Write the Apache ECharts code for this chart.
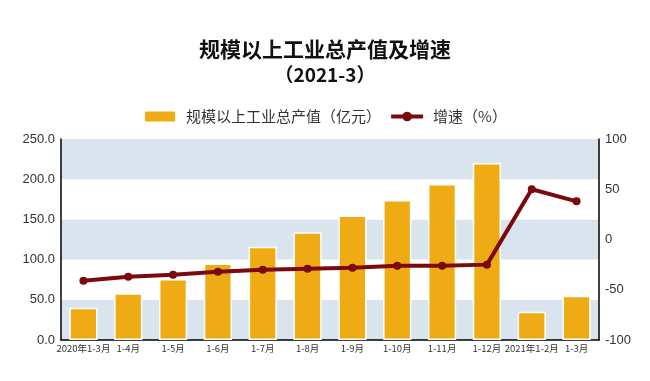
<!DOCTYPE html>
<html><head><meta charset="utf-8">
<script src="https://cdn.jsdelivr.net/npm/echarts@6/dist/echarts.min.js"></script>
<style>html,body{margin:0;padding:0;background:#fff}#c{width:650px;height:381px}</style>
</head><body><div id="c"></div>
<script>
const categories = ['2020年1-3月','1-4月','1-5月','1-6月','1-7月','1-8月','1-9月','1-10月','1-11月','1-12月','2021年1-2月','1-3月'];
const outputValues = [40, 58, 76, 95, 116, 134, 155, 174, 194, 220, 35, 55];
const growthRates = [-41, -37, -35, -32, -30, -29, -28, -26, -26, -25, 50, 38];
const leftTicks = [0, 50, 100, 150, 200, 250];
const rightTicks = [-100, -50, 0, 50, 100];

const chart = echarts.init(document.getElementById('c'), null, {renderer: 'canvas'});
chart.setOption({
  animation: false,
  title: [
    {text: '规模以上工业总产值及增速', left: 'center', top: 34,
     textStyle: {fontSize: 21, fontWeight: 'bold', color: '#111', fontFamily: 'Noto Sans CJK SC'}},
    {text: '（2021-3）', left: 'center', top: 60,
     textStyle: {fontSize: 19, fontWeight: 'bold', color: '#111', fontFamily: 'Noto Sans CJK SC'}}
  ],
  legend: {
    top: 104, left: 'center', itemGap: 8, itemWidth: 32, itemHeight: 12,
    textStyle: {fontSize: 15, color: '#333', fontFamily: 'Noto Sans CJK SC', padding: [0, 0, 0, 5]},
    data: [
      {name: '规模以上工业总产值（亿元）', icon: 'rect'},
      {name: '增速（%）', itemStyle: {color: '#7a0a0e'}, lineStyle: {width: 4, color: '#7a0a0e'}}
    ]
  },
  grid: {left: 61, right: 51, top: 139, bottom: 41},
  xAxis: {
    type: 'category', data: categories,
    axisLine: {lineStyle: {color: '#000', width: 1.5}},
    axisTick: {show: false},
    axisLabel: {fontSize: 9.5, color: '#333', interval: 0, margin: 4, fontFamily: 'Noto Sans CJK SC'}
  },
  yAxis: [
    {type: 'value', min: 0, max: 250, interval: 50,
     axisLine: {show: true, lineStyle: {color: '#000', width: 1.5}},
     axisTick: {show: false},
     axisLabel: {fontSize: 13, color: '#333', margin: 6, formatter: v => v.toFixed(1)},
     splitLine: {show: false},
     splitArea: {show: true, areaStyle: {color: ['#d9e4ee', '#ffffff']}}},
    {type: 'value', min: -100, max: 100, interval: 50,
     axisLine: {show: true, lineStyle: {color: '#000', width: 1.5}},
     axisTick: {show: false},
     axisLabel: {fontSize: 13, color: '#333', margin: 6},
     splitLine: {show: false}}
  ],
  series: [
    {name: '规模以上工业总产值（亿元）', type: 'bar', data: outputValues, barWidth: '63%',
     itemStyle: {color: '#efab13', borderColor: '#fff', borderWidth: 1.5}},
    {name: '增速（%）', type: 'line', yAxisIndex: 1, data: growthRates,
     symbol: 'circle', symbolSize: 8,
     lineStyle: {color: '#7a0a0e', width: 4},
     itemStyle: {color: '#7a0a0e'}}
  ]
});
</script></body></html>
